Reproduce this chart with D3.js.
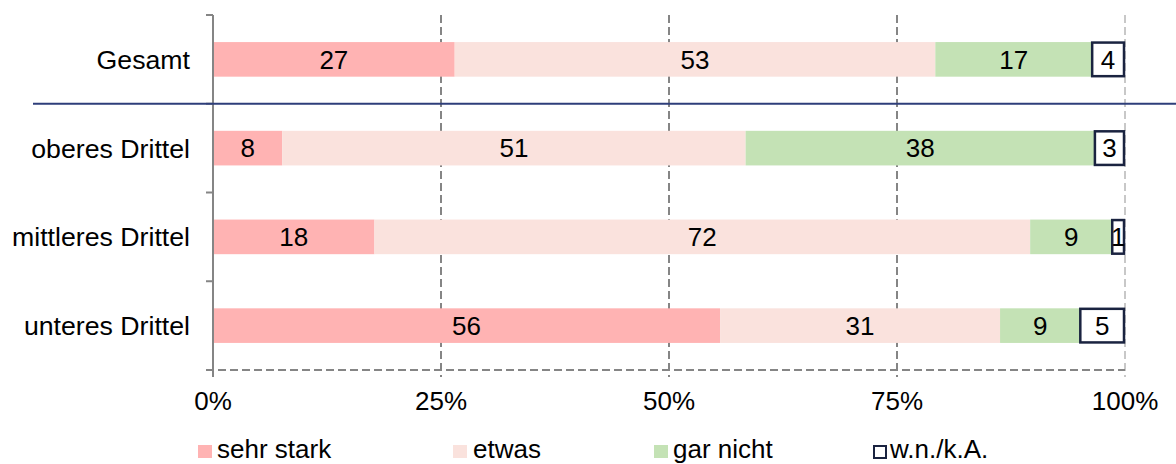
<!DOCTYPE html>
<html>
<head>
<meta charset="utf-8">
<script src="https://cdn.jsdelivr.net/npm/d3@7"></script>
<style>
  body { margin: 0; background: #fff; }
  svg { display: block; font-family: Arial, "Liberation Sans", sans-serif; }
</style>
</head>
<body>
<svg id="chart" width="1176" height="464"></svg>
<script>
// Groups (rows, top to bottom)
const categories = ["Gesamt", "oberes Drittel", "mittleres Drittel", "unteres Drittel"];

// Answer shares in percent per group
const sehrStark = [26.5, 7.6, 17.7, 55.6];
const etwas     = [52.7, 50.8, 71.9, 30.7];
const garNicht  = [17.2, 38.3, 9.0, 8.8];
const wnka      = [3.6, 3.3, 1.4, 4.9];

const seriesNames = ["sehr stark", "etwas", "gar nicht", "w.n./k.A."];
const tickValues = [0, 25, 50, 75, 100];
const tickLabels = ["0%", "25%", "50%", "75%", "100%"];

const colors = ["#FFB3B3", "#FAE2DD", "#C4E2B5", "#FFFFFF"];
const boxStroke = "#1A2340";

const svg = d3.select("#chart");
const plotLeft = 213, plotRight = 1125, plotTop = 15, plotBottom = 370;

const x = d3.scaleLinear().domain([0, 100]).range([plotLeft, plotRight]);
const y = d3.scaleBand().domain(categories).range([plotTop, plotBottom])
  .paddingInner(0.61).paddingOuter(0.305);

// Vertical gridlines
const grid = svg.append("g");
grid.selectAll("line").data(tickValues.slice(1)).join("line")
  .attr("x1", d => x(d)).attr("x2", d => x(d))
  .attr("y1", plotTop).attr("y2", plotBottom + 7)
  .attr("stroke", d => d === 100 ? "#C8C8C8" : "#858585")
  .attr("stroke-width", 2)
  .attr("stroke-dasharray", "8,4");

// Stacked segments
const series = [sehrStark, etwas, garNicht, wnka];
const rows = categories.map((c, i) => {
  let acc = 0;
  return series.map((s, k) => {
    const x0 = acc; acc += s[i];
    return { cat: c, k, x0, x1: acc, v: s[i] };
  });
});

const bars = svg.append("g");
rows.forEach(segs => {
  segs.forEach(d => {
    const isBox = d.k === 3;
    bars.append("rect")
      .attr("x", x(d.x0))
      .attr("y", y(d.cat) + (isBox ? 0.5 : 0))
      .attr("width", x(d.x1) - x(d.x0) - (isBox ? 1 : 0))
      .attr("height", y.bandwidth() - (isBox ? 1 : 0))
      .attr("fill", colors[d.k])
      .attr("stroke", isBox ? boxStroke : "none")
      .attr("stroke-width", isBox ? 2.5 : 0);
    bars.append("text")
      .attr("x", (x(d.x0) + x(d.x1)) / 2 + (isBox ? -0.5 : 0))
      .attr("y", y(d.cat) + y.bandwidth() / 2)
      .attr("dy", "0.36em")
      .attr("text-anchor", "middle")
      .attr("font-size", 26)
      .attr("fill", "#000")
      .text(Math.round(d.v));
  });
});

// X axis (dashed baseline with downward ticks)
const xAxis = svg.append("g");
xAxis.append("line")
  .attr("x1", plotLeft - 7).attr("x2", plotRight)
  .attr("y1", plotBottom).attr("y2", plotBottom)
  .attr("stroke", "#858585").attr("stroke-width", 2)
  .attr("stroke-dasharray", "8,4");
xAxis.selectAll("text").data(tickValues).join("text")
  .attr("x", d => x(d))
  .attr("y", 410)
  .attr("text-anchor", "middle")
  .attr("font-size", 26)
  .attr("fill", "#000")
  .text((d, i) => tickLabels[i]);

// Y axis with band boundary ticks
const yAxis = svg.append("g");
yAxis.append("line")
  .attr("x1", plotLeft).attr("x2", plotLeft)
  .attr("y1", plotTop).attr("y2", plotBottom + 7)
  .attr("stroke", "#858585").attr("stroke-width", 2);
const bounds = d3.range(categories.length + 1).map(i => plotTop + i * y.step());
yAxis.selectAll("line.tick").data(bounds).join("line")
  .attr("class", "tick")
  .attr("x1", plotLeft - 7).attr("x2", plotLeft)
  .attr("y1", d => d).attr("y2", d => d)
  .attr("stroke", "#858585").attr("stroke-width", 2);
yAxis.selectAll("text").data(categories).join("text")
  .attr("x", 190)
  .attr("y", d => y(d) + y.bandwidth() / 2)
  .attr("dy", "0.36em")
  .attr("text-anchor", "end")
  .attr("font-size", 26.7)
  .attr("fill", "#000")
  .text(d => d);

// Separator between total and subgroups
svg.append("line")
  .attr("x1", 33).attr("x2", 1176)
  .attr("y1", bounds[1]).attr("y2", bounds[1])
  .attr("stroke", "#2E3E7A").attr("stroke-width", 2);

// Legend
const legendX = [198, 453, 654, 873];
const legend = svg.append("g");
seriesNames.forEach((name, k) => {
  const g = legend.append("g").attr("transform", `translate(${legendX[k]},445)`);
  const isBox = k === 3;
  g.append("rect")
    .attr("x", isBox ? 1 : 0).attr("y", isBox ? 1 : 0)
    .attr("width", isBox ? 12 : 14).attr("height", isBox ? 12 : 13)
    .attr("fill", colors[k])
    .attr("stroke", isBox ? boxStroke : "none")
    .attr("stroke-width", isBox ? 2 : 0);
  g.append("text")
    .attr("x", isBox ? 17 : 19 + (k === 1 ? 1 : 0))
    .attr("y", 13)
    .attr("font-size", 26)
    .attr("fill", "#000")
    .text(name);
});
</script>
</body>
</html>
